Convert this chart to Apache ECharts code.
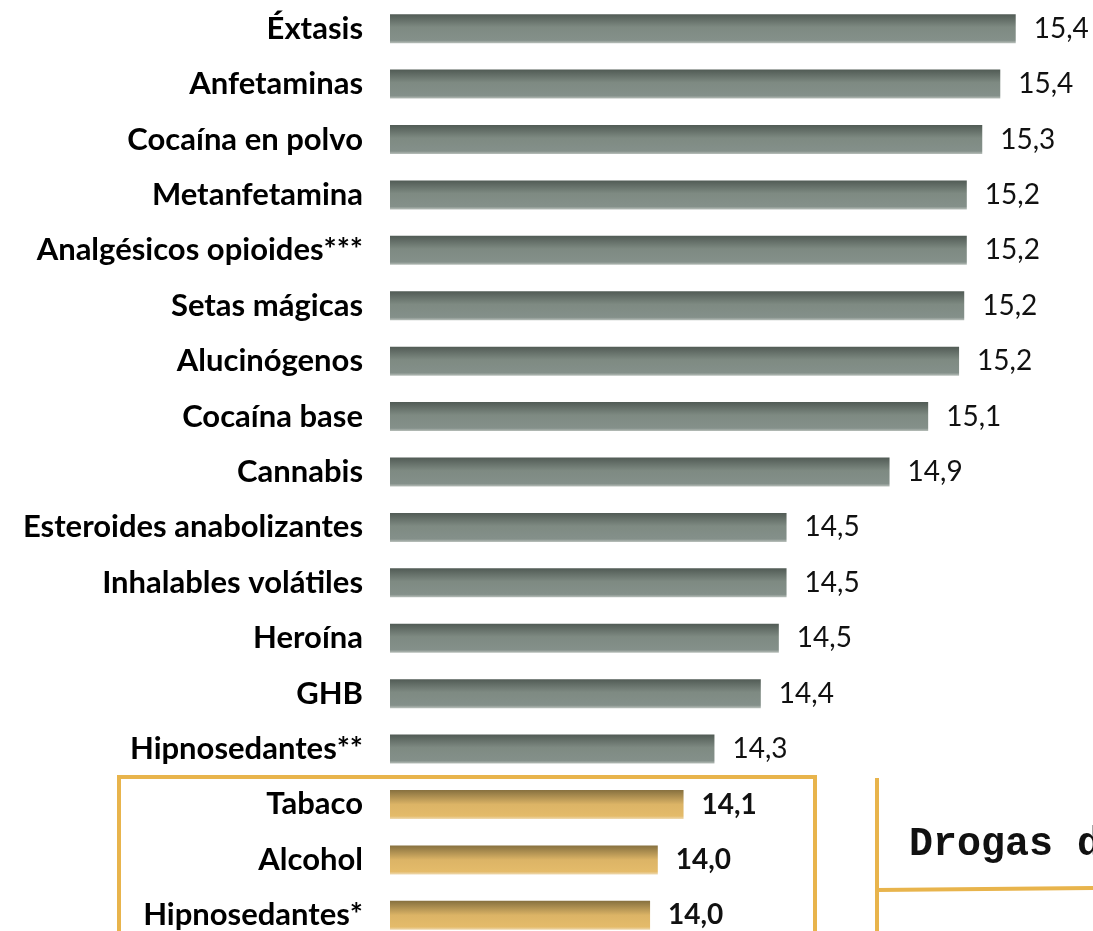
<!DOCTYPE html>
<html>
<head>
    <meta charset="utf-8">
    <script src="https://cdn.jsdelivr.net/npm/echarts@6/dist/echarts.min.js"></script>
    <style>
        html, body { margin: 0; padding: 0; background: #fff; }
    </style>
</head>
<body>
<div id="main" style="width: 1093px;height:931px;"></div>
<script type="text/javascript">
    // datos: edad media de inicio de consumo
    var categories = ['Éxtasis', 'Anfetaminas', 'Cocaína en polvo', 'Metanfetamina', 'Analgésicos opioides***',
        'Setas mágicas', 'Alucinógenos', 'Cocaína base', 'Cannabis', 'Esteroides anabolizantes',
        'Inhalables volátiles', 'Heroína', 'GHB', 'Hipnosedantes**', 'Tabaco', 'Alcohol', 'Hipnosedantes*'];
    var values = [15.43, 15.37, 15.30, 15.24, 15.24, 15.23, 15.21, 15.09, 14.94, 14.54,
        14.54, 14.51, 14.44, 14.26, 14.14, 14.04, 14.01];
    var valueLabels = ['15,4', '15,4', '15,3', '15,2', '15,2', '15,2', '15,2', '15,1', '14,9', '14,5',
        '14,5', '14,5', '14,4', '14,3', '14,1', '14,0', '14,0'];
    var legales = ['Tabaco', 'Alcohol', 'Hipnosedantes*'];

    var grisBar = new echarts.graphic.LinearGradient(0, 0, 0, 1, [
        {offset: 0, color: '#515b55'},
        {offset: 0.45, color: '#7e8a82'},
        {offset: 0.9, color: '#84908a'},
        {offset: 1, color: '#b9c0bb'}
    ]);
    var oroBar = new echarts.graphic.LinearGradient(0, 0, 0, 1, [
        {offset: 0, color: '#86703f'},
        {offset: 0.5, color: '#dcb466'},
        {offset: 0.9, color: '#e4bb6a'},
        {offset: 1, color: '#eed9b0'}
    ]);

    var data = [];
    for (var i = 0; i < categories.length; i++) {
        var legal = legales.indexOf(categories[i]) >= 0;
        data.push({
            value: values[i],
            itemStyle: {color: legal ? oroBar : grisBar},
            label: {fontWeight: legal ? 'bold' : 'normal'}
        });
    }

    var myChart = echarts.init(document.getElementById('main'));
    var option = {
        animation: false,
        grid: {left: 390, top: 1, width: 643.75, height: 942, outerBoundsMode: 'none', containLabel: false},
        xAxis: {
            type: 'value',
            min: 13,
            max: 15.5,
            show: false
        },
        yAxis: {
            type: 'category',
            inverse: true,
            data: categories,
            axisLine: {show: false},
            axisTick: {show: false},
            axisLabel: {
                margin: 27,
                color: '#000',
                fontFamily: 'Lato',
                fontWeight: 'bold',
                fontSize: 31
            }
        },
        series: [{
            type: 'bar',
            barWidth: 29,
            data: data,
            label: {
                show: true,
                position: 'right',
                distance: 18,
                color: '#111',
                fontFamily: 'Lato',
                fontSize: 28,
                formatter: function (p) {
                    return valueLabels[p.dataIndex];
                }
            }
        }],
        graphic: [
            {
                type: 'polyline',
                shape: {points: [[119, 931], [119, 777], [815, 777], [815, 931]]},
                style: {stroke: '#e8b44c', lineWidth: 4, fill: null}
            },
            {
                type: 'polyline',
                shape: {points: [[877, 778], [877, 931]]},
                style: {stroke: '#e8b44c', lineWidth: 4, fill: null}
            },
            {
                type: 'line',
                shape: {x1: 877, y1: 890, x2: 1093, y2: 888},
                style: {stroke: '#e8b44c', lineWidth: 4}
            },
            {
                type: 'text',
                left: 909,
                top: 825,
                style: {
                    text: 'Drogas de las que se consume',
                    fontFamily: 'Liberation Mono',
                    fontWeight: 'bold',
                    fontSize: 40,
                    fill: '#111'
                }
            }
        ]
    };
    myChart.setOption(option);
</script>
</body>
</html>
